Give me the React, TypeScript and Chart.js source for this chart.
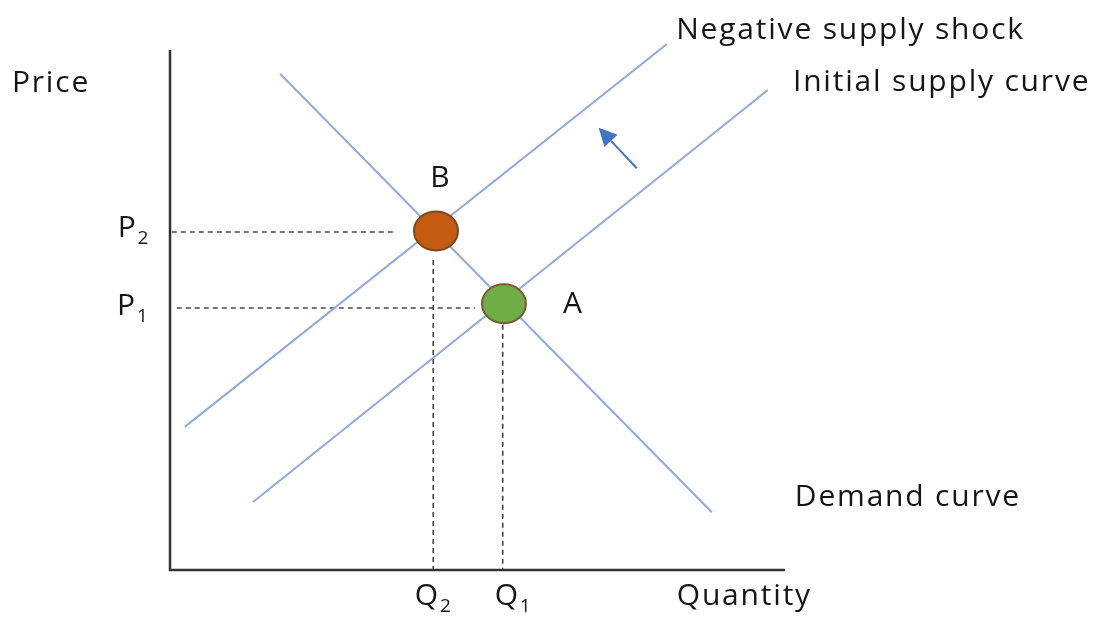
import React, { useEffect, useRef } from "react";
import { Chart, registerables } from "chart.js";

Chart.register(...registerables);

// Data coordinates (quantity 0..100, price 0..100)
const axisPath = [
  { x: 0, y: 96.3 },
  { x: 0, y: 0 },
  { x: 100, y: 0 },
];
const demandCurve = [
  { x: 17.9, y: 91.9 },
  { x: 88.1, y: 10.7 },
];
const initialSupply = [
  { x: 13.5, y: 12.6 },
  { x: 97.2, y: 88.9 },
];
const shockedSupply = [
  { x: 2.4, y: 26.5 },
  { x: 80.8, y: 97.4 },
];
const priceP2Guide = [
  { x: 0.3, y: 62.6 },
  { x: 36.9, y: 62.6 },
];
const priceP1Guide = [
  { x: 1.1, y: 48.5 },
  { x: 49.6, y: 48.5 },
];
const qtyQ2Guide = [
  { x: 42.8, y: 57.4 },
  { x: 42.8, y: 0 },
];
const qtyQ1Guide = [
  { x: 54.1, y: 45.4 },
  { x: 54.1, y: 0 },
];
const equilibriumB = [{ x: 43.25, y: 62.8 }];
const equilibriumA = [{ x: 54.3, y: 49.3 }];
const shiftArrow = [
  { x: 75.9, y: 74.4 },
  { x: 69.7, y: 81.9 },
];

// Label texts with anchor points (data units)
const labelTexts = [
  "Price",
  "Negative supply shock",
  "Initial supply curve",
  "Demand curve",
  "Quantity",
  "Q",
  "Q",
  "P",
  "P",
  "B",
  "A",
];
const labelSubs = ["", "", "", "", "", "2", "1", "2", "1", "", ""];
const labelX = [-25.7, 82.3, 101.3, 101.6, 82.4, 39.8, 52.8, -8.5, -8.6, 42.3, 63.9];
const labelY = [88.5, 98.3, 88.7, 11.9, -6.5, -6.5, -6.5, 61.7, 47.2, 70.9, 47.6];

const FONT = '"Open Sans", sans-serif';

const overlayPlugin = {
  id: "overlay",
  afterDatasetsDraw(chart: any) {
    const ctx = chart.ctx;
    const xs = chart.scales.x;
    const ys = chart.scales.y;

    const drawEllipse = (dsIndex: number, fill: string, stroke: string) => {
      const meta = chart.getDatasetMeta(dsIndex);
      meta.data.forEach((pt: any) => {
        ctx.save();
        ctx.beginPath();
        ctx.ellipse(pt.x, pt.y, 22, 19.5, 0, 0, Math.PI * 2);
        ctx.fillStyle = fill;
        ctx.fill();
        ctx.lineWidth = 2;
        ctx.strokeStyle = stroke;
        ctx.stroke();
        ctx.restore();
      });
    };
    drawEllipse(8, "#C55A11", "#7A4A24");
    drawEllipse(9, "#70AD47", "#7A5A30");

    // arrow
    const x0 = xs.getPixelForValue(shiftArrow[0].x);
    const y0 = ys.getPixelForValue(shiftArrow[0].y);
    const x1 = xs.getPixelForValue(shiftArrow[1].x);
    const y1 = ys.getPixelForValue(shiftArrow[1].y);
    const ang = Math.atan2(y1 - y0, x1 - x0);
    const headLen = 18;
    const headW = 9;
    const bx = x1 - headLen * Math.cos(ang);
    const by = y1 - headLen * Math.sin(ang);
    ctx.save();
    ctx.strokeStyle = "#4472C4";
    ctx.fillStyle = "#4472C4";
    ctx.lineWidth = 2;
    ctx.beginPath();
    ctx.moveTo(x0, y0);
    ctx.lineTo(bx, by);
    ctx.stroke();
    ctx.beginPath();
    ctx.moveTo(x1, y1);
    ctx.lineTo(bx + headW * Math.sin(ang), by - headW * Math.cos(ang));
    ctx.lineTo(bx - headW * Math.sin(ang), by + headW * Math.cos(ang));
    ctx.closePath();
    ctx.fill();
    ctx.restore();

    // labels
    ctx.save();
    ctx.fillStyle = "#151515";
    ctx.textBaseline = "alphabetic";
    ctx.textAlign = "left";
    labelTexts.forEach((t, i) => {
      const px = xs.getPixelForValue(labelX[i]);
      const py = ys.getPixelForValue(labelY[i]);
      ctx.letterSpacing = "1.8px";
      ctx.font = `30px ${FONT}`;
      ctx.fillText(t, px, py);
      if (labelSubs[i]) {
        const w = ctx.measureText(t).width;
        ctx.letterSpacing = "0px";
        ctx.font = `19px ${FONT}`;
        ctx.fillText(labelSubs[i], px + w, py + 7);
      }
    });
    ctx.restore();
  },
};

export default function App() {
  const ref = useRef<HTMLCanvasElement | null>(null);

  useEffect(() => {
    if (!ref.current) return;
    const line = (data: any[], color: string, width: number, dash: number[] = []) => ({
      data,
      borderColor: color,
      borderWidth: width,
      borderDash: dash,
      pointRadius: 0,
      showLine: true,
      fill: false,
      clip: false as any,
    });
    const chart = new Chart(ref.current, {
      type: "scatter",
      data: {
        datasets: [
          line(axisPath, "#333333", 2.5),
          line(demandCurve, "#8FAADC", 2),
          line(initialSupply, "#8FAADC", 2),
          line(shockedSupply, "#8FAADC", 2),
          line(priceP2Guide, "#4a4a4a", 1.5, [5, 4]),
          line(priceP1Guide, "#4a4a4a", 1.5, [5, 4]),
          line(qtyQ2Guide, "#3a3a3a", 1.5, [5, 4]),
          line(qtyQ1Guide, "#3a3a3a", 1.5, [5, 4]),
          { data: equilibriumB, pointRadius: 0, showLine: false, clip: false as any },
          { data: equilibriumA, pointRadius: 0, showLine: false, clip: false as any },
        ],
      },
      options: {
        animation: false,
        responsive: false,
        events: [],
        layout: { padding: { left: 170, right: 316, top: 30, bottom: 48 } },
        plugins: { legend: { display: false }, tooltip: { enabled: false } },
        scales: {
          x: { type: "linear", min: 0, max: 100, display: false },
          y: { type: "linear", min: 0, max: 100, display: false },
        },
      },
      plugins: [overlayPlugin],
    });
    return () => chart.destroy();
  }, []);

  return (
    <div style={{ position: "absolute", left: 0, top: 0, width: 1101, height: 618, background: "#fff" }}>
      <canvas ref={ref} width={1101} height={618} style={{ width: 1101, height: 618, display: "block" }} />
    </div>
  );
}
